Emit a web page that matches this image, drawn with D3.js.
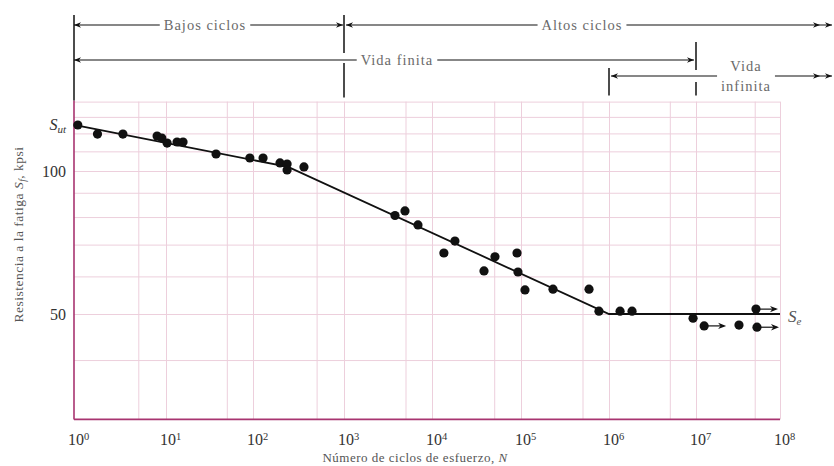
<!DOCTYPE html>
<html>
<head>
<meta charset="utf-8">
<script src="https://cdn.jsdelivr.net/npm/d3@7"></script>
<style>
	body { margin: 0; background: #fff; }
	svg { display: block; }
	svg text { font-family: "Liberation Serif", "Times New Roman", "DejaVu Serif", serif; }
</style>
</head>
<body>
<div class="chart"></div>
<script>

// measured fatigue tests (cycles to failure, strength in kpsi)
var cycles = [1.1, 1.8, 3.4, 8.0, 9.0, 10.3, 13.4, 15.7, 37.6, 92, 129, 198, 237, 237, 363,
	3800, 4930, 6930, 13600, 18100, 38400, 51000, 90200, 92500, 111000, 231000, 593000, 769000,
	1.34e6, 1.84e6, 9.25e6, 1.25e7, 3.25e7, 5.18e7, 5.32e7];
var strength = [125, 119.6, 119.6, 118.5, 117.3, 114.5, 115.1, 115.1, 108.6, 106.5, 106.5, 104, 103.4, 100.5, 102,
	80.6, 82.4, 77.0, 67.2, 71.2, 61.6, 66.0, 67.2, 61.3, 56.2, 56.4, 56.4, 50.7,
	50.7, 50.7, 49.0, 47.2, 47.4, 51.2, 46.9];
// specimens that did not fail (drawn with an arrow)
var runout = [32, 34, 35];

// S-N curve
var curveN = [1, 243, 1e6, 1e8];
var curveS = [125, 102, 50, 50];
var sut = 125;
var se = 50;

var decades = [1, 10, 100, 1e3, 1e4, 1e5, 1e6, 1e7, 1e8];
var xGrid = [5, 10, 50, 100, 500, 1e3, 5e3, 1e4, 5e4, 1e5, 5e5, 1e6, 5e6, 1e7, 5e7, 1e8];
var yGrid = [40, 50, 60, 70, 80, 90, 100, 110, 120, 130, 140];
var yLabels = [100, 50];

var w = 834;
var h = 466;
var gridColor = "#edcfdc";
var axisColor = "#a83470";
var noteColor = "#6a6a6a";

var svg = d3.select(".chart")
	.append("svg")
	.attr("width", w)
	.attr("height", h);

// scanned scale is slightly uneven, so each decade gets its own stop
var x = d3.scaleLog()
	.domain(decades)
	.range([74, 166, 253, 344, 432, 521, 609, 696, 780]);
var y = d3.scaleLog()
	.domain([30, 140])
	.range([419.4, 101.6]);

var x0 = x(1), x1 = x(1e8), y0 = y(30), y1 = y(140);

/********************************************************************
* Grid
*********************************************************************/
svg.append("g")
	.attr("transform", "translate(0," + y0 + ")")
	.call(d3.axisBottom(x).tickValues(xGrid).tickSize(-(y0 - y1)).tickFormat(""))
	.call(function(g){ g.select(".domain").remove(); })
	.selectAll("line").attr("stroke", gridColor).attr("stroke-width", 1);

svg.append("g")
	.attr("transform", "translate(" + x0 + ",0)")
	.call(d3.axisLeft(y).tickValues(yGrid).tickSize(-(x1 - x0)).tickFormat(""))
	.call(function(g){ g.select(".domain").remove(); })
	.selectAll("line").attr("stroke", gridColor).attr("stroke-width", 1);

// axis lines
svg.append("line")
	.attr("x1", x0).attr("x2", x0).attr("y1", y1 - 1).attr("y2", y0)
	.attr("stroke", axisColor).attr("stroke-width", 1.6);
svg.append("line")
	.attr("x1", x0).attr("x2", x1).attr("y1", y0).attr("y2", y0)
	.attr("stroke", axisColor).attr("stroke-width", 1.6);

/********************************************************************
* Tick labels
*********************************************************************/
var xAxis = svg.append("g")
	.attr("transform", "translate(0," + y0 + ")")
	.call(d3.axisBottom(x).tickValues(decades).tickSize(0).tickPadding(14));
xAxis.select(".domain").remove();
xAxis.selectAll("text")
	.attr("font-size", 16)
	.attr("fill", "#333")
	.attr("dx", "0.25em")
	.each(function(d){
		var t = d3.select(this);
		t.text("10");
		t.append("tspan")
			.attr("dy", "-0.45em")
			.attr("font-size", 10.5)
			.text(Math.round(Math.log10(d)));
	});

var yAxis = svg.append("g")
	.attr("transform", "translate(" + x0 + ",0)")
	.call(d3.axisLeft(y).tickValues(yLabels).tickSize(0).tickPadding(8).tickFormat(d3.format("d")));
yAxis.select(".domain").remove();
yAxis.selectAll("text")
	.attr("font-size", 16)
	.attr("fill", "#333");

var sutLabel = svg.append("text")
	.attr("x", x0 - 8)
	.attr("y", y(sut) + 5)
	.attr("text-anchor", "end")
	.attr("font-size", 16)
	.attr("fill", "#333");
sutLabel.append("tspan").attr("font-style", "italic").text("S");
sutLabel.append("tspan").attr("font-style", "italic").attr("font-size", 11).attr("dy", 3).text("ut");

var seLabel = svg.append("text")
	.attr("x", x1 + 8)
	.attr("y", y(se) + 8)
	.attr("font-size", 17)
	.attr("fill", "#555");
seLabel.append("tspan").attr("font-style", "italic").text("S");
seLabel.append("tspan").attr("font-style", "italic").attr("font-size", 11).attr("dy", 3).text("e");

// axis titles
svg.append("text")
	.attr("x", (x0 + x1) / 2 - 12)
	.attr("y", 462)
	.attr("text-anchor", "middle")
	.attr("font-size", 13)
	.attr("letter-spacing", 0.5)
	.attr("fill", "#555")
	.html("Número de ciclos de esfuerzo, <tspan font-style='italic'>N</tspan>");

var yTitle = svg.append("text")
	.attr("transform", "translate(23," + ((y0 + y1) / 2 - 26) + ") rotate(-90)")
	.attr("text-anchor", "middle")
	.attr("font-size", 13.5)
	.attr("letter-spacing", 0.5)
	.attr("fill", "#555");
yTitle.append("tspan").text("Resistencia a la fatiga ");
yTitle.append("tspan").attr("font-style", "italic").text("S");
yTitle.append("tspan").attr("font-style", "italic").attr("font-size", 9.5).attr("dy", 3).text("f");
yTitle.append("tspan").attr("dy", -3).text(", kpsi");

/********************************************************************
* Curve and points
*********************************************************************/
var line = d3.line()
	.x(function(d){ return x(d[0]); })
	.y(function(d){ return y(d[1]); });

svg.append("path")
	.datum(d3.zip(curveN, curveS))
	.attr("d", line)
	.attr("fill", "none")
	.attr("stroke", "#111")
	.attr("stroke-width", 1.8);

function arrowHead(px, py, dir, size){
	var s = size || 7;
	svg.append("path")
		.attr("d", "M" + px + "," + py +
			"L" + (px - dir * s) + "," + (py - s * 0.4) +
			"L" + (px - dir * s * 0.7) + "," + py +
			"L" + (px - dir * s) + "," + (py + s * 0.4) + "Z")
		.attr("fill", "#111");
}

var tests = d3.zip(cycles, strength);

svg.selectAll("circle")
	.data(tests)
	.enter()
	.append("circle")
	.attr("cx", function(d){ return x(d[0]); })
	.attr("cy", function(d){ return y(d[1]); })
	.attr("r", 4.6)
	.attr("fill", "#111");

runout.forEach(function(n){
	var d = tests[n - 1];
	var px = x(d[0]), py = y(d[1]);
	svg.append("line")
		.attr("x1", px).attr("x2", px + 20).attr("y1", py).attr("y2", py)
		.attr("stroke", "#111").attr("stroke-width", 1.2);
	arrowHead(px + 22, py, 1, 8);
});

/********************************************************************
* Regime annotations
*********************************************************************/
var rows = [25, 60, 76];

function vbar(n, top, bottom, gaps){
	var px = x(n);
	var cuts = [top].concat(gaps || []).concat([bottom]);
	for (var i = 0; i < cuts.length; i += 2) {
		svg.append("line")
			.attr("x1", px).attr("x2", px)
			.attr("y1", cuts[i]).attr("y2", cuts[i + 1])
			.attr("stroke", "#111").attr("stroke-width", 1.5);
	}
}

vbar(1, 15, y1 - 1);
vbar(1e3, 15, y1 - 4, [53, 63]);
vbar(1e7, 42, y1 - 6, [70, 82]);
vbar(1e6, 68, y1 - 6);

function span(xa, xb, row, label, headA, headB, textX){
	var py = rows[row];
	svg.append("line")
		.attr("x1", xa).attr("x2", xb).attr("y1", py).attr("y2", py)
		.attr("stroke", "#111").attr("stroke-width", 1.2);
	if (headA) arrowHead(xa, py, -1);
	if (headB) arrowHead(xb, py, 1);
	if (headB === 2) arrowHead(xb - 12, py, 1);
	if (!label) return;
	var lines = label.split("\n");
	var t = svg.append("text")
		.attr("x", textX)
		.attr("y", py + 5 - (lines.length - 1) * 10)
		.attr("text-anchor", "middle")
		.attr("font-size", 14.5)
		.attr("letter-spacing", 1)
		.attr("fill", noteColor);
	lines.forEach(function(s, i){
		t.append("tspan").attr("x", textX).attr("dy", i ? 20 : 0).text(s);
	});
	var b = t.node().getBBox();
	svg.insert("rect", function(){ return t.node(); })
		.attr("x", b.x - 4).attr("y", py - 3)
		.attr("width", b.width + 8).attr("height", 6)
		.attr("fill", "#fff");
}

span(x(1), x(1e3) - 1, 0, "Bajos ciclos", true, true, (x(1) + x(1e3)) / 2 - 4);
span(x(1e3) + 2, 832, 0, "Altos ciclos", true, 2, (x(1e3) + 832) / 2 - 6);
span(x(1), x(1e7) - 2, 1, "Vida finita", true, true, (x(1) + x(1e7)) / 2 + 12);
span(x(1e6) + 2, 832, 2, "Vida\ninfinita", true, 2, (x(1e7) + x(1e8)) / 2 + 8);

</script>
</body>
</html>
